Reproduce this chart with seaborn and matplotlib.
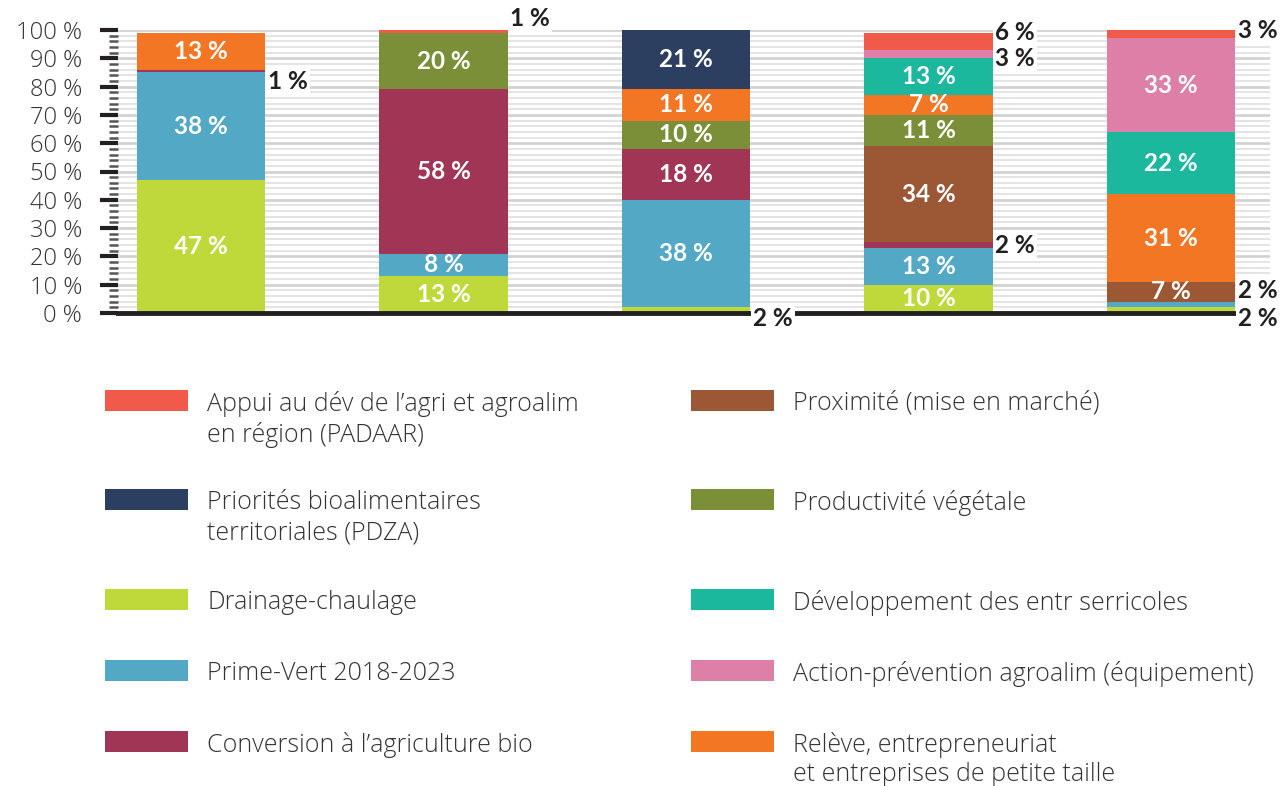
import matplotlib.pyplot as plt
import matplotlib as mpl
import matplotlib.patches as mpatches
from matplotlib.ticker import MultipleLocator, FuncFormatter
import seaborn as sns
import numpy as np

# Data: share of each program per group (%), stacked bottom -> top
groups = ["G1", "G2", "G3", "G4", "G5"]
drainage = [47, 13, 2, 10, 2]
prime_vert = [38, 8, 38, 13, 2]
conversion = [1, 58, 18, 2, 0]
proximite = [0, 0, 0, 34, 7]
productivite = [0, 20, 10, 11, 0]
releve = [13, 0, 11, 7, 31]
serricoles = [0, 0, 0, 13, 22]
action_prev = [0, 0, 0, 3, 33]
pdza = [0, 0, 21, 0, 0]
padaar = [0, 1, 0, 6, 3]

names = {
    "padaar": "Appui au dév de l’agri et agroalim\nen région (PADAAR)",
    "pdza": "Priorités bioalimentaires\nterritoriales (PDZA)",
    "drainage": "Drainage-chaulage",
    "prime_vert": "Prime-Vert 2018-2023",
    "conversion": "Conversion à l’agriculture bio",
    "proximite": "Proximité (mise en marché)",
    "productivite": "Productivité végétale",
    "serricoles": "Développement des entr serricoles",
    "action_prev": "Action-prévention agroalim (équipement)",
    "releve": "Relève, entrepreneuriat\net entreprises de petite taille",
}

series = {
    "drainage": drainage, "prime_vert": prime_vert, "conversion": conversion,
    "proximite": proximite, "productivite": productivite, "releve": releve,
    "serricoles": serricoles, "action_prev": action_prev, "pdza": pdza,
    "padaar": padaar,
}

colors = {
    "padaar": "#f15a4a", "pdza": "#2c3f60", "drainage": "#bfd83a",
    "prime_vert": "#52a8c5", "conversion": "#a03556", "proximite": "#9c5735",
    "productivite": "#7a8f37", "serricoles": "#1cb89e", "action_prev": "#de7fa8",
    "releve": "#f27623",
}

# legend rows: (left column, right column)
legend_rows = [("padaar", "proximite"), ("pdza", "productivite"),
               ("drainage", "serricoles"), ("prime_vert", "action_prev"),
               ("conversion", "releve")]

# small segments labelled outside the bar: (anchor on segment, vertical alignment)
outside = {
    (0, "conversion"): ("top", "top"),
    (1, "padaar"): ("top", "bottom"),
    (2, "drainage"): ("top", "top"),
    (3, "padaar"): ("top", "center"),
    (3, "action_prev"): ("bottom", "center"),
    (3, "conversion"): ("mid", "center"),
    (4, "padaar"): ("top", "center"),
    (4, "prime_vert"): ("top", "bottom"),
    (4, "drainage"): ("top", "top"),
}

sns.set_theme(style="white")
plt.rcParams['font.family'] = ['Open Sans', 'DejaVu Sans']
dark = "#231f20"
txt = "#333333"
light_font = dict(family=["Open Sans", "DejaVu Sans"], weight="light")
bold_font = dict(family=["Lato", "DejaVu Sans"], weight="bold", size=17.5)
bar_w = 0.53
W, H = 1284, 786

fig = plt.figure(figsize=(12.84, 7.86), dpi=100)
ax = fig.add_axes([118 / W, 473 / H, 1152 / W, 283 / H])

bottom = np.zeros(len(groups))
for key, vals in series.items():
    vals = np.array(vals, dtype=float)
    sns.barplot(x=groups, y=vals, order=groups, bottom=bottom, color=colors[key],
                saturation=1, width=bar_w, errorbar=None, linewidth=0, ax=ax)
    for i, v in enumerate(vals):
        if v == 0:
            continue
        lo, hi = bottom[i], bottom[i] + v
        if (i, key) in outside:
            anchor, va = outside[(i, key)]
            y = {"top": hi, "bottom": lo, "mid": (lo + hi) / 2}[anchor]
            ax.text(i + bar_w / 2 + 0.01, y, f"{int(v)} %", ha="left", va=va,
                    color=dark, clip_on=False, zorder=5,
                    bbox=dict(facecolor="white", edgecolor="none", pad=1.5), **bold_font)
        else:
            ax.text(i, (lo + hi) / 2, f"{int(v)} %", ha="center", va="center",
                    color="white", zorder=5, **bold_font)
    bottom += vals

ax.set_xlim(-0.342, 4.408)
ax.set_ylim(0, 100)
ax.yaxis.set_major_locator(MultipleLocator(10))
ax.yaxis.set_minor_locator(MultipleLocator(2))
ax.yaxis.set_major_formatter(FuncFormatter(lambda v, p: f"{int(v)} %"))
ax.tick_params(axis="y", which="major", direction="out", length=13, width=3,
               color=dark, pad=13, labelsize=17, labelcolor=txt, left=True)
ax.tick_params(axis="y", which="minor", direction="out", length=6.5, width=1.8,
               color="#555555", left=True)
for lab in ax.get_yticklabels():
    lab.set_fontweight("light")
ax.tick_params(axis="x", length=0, labelbottom=False)
ax.set_xlabel("")
ax.set_ylabel("")

ax.grid(axis="y", which="major", color="#d3d3d3", lw=2)
ax.grid(axis="y", which="minor", color="#e2e2e2", lw=1.3)
ax.set_axisbelow(True)
for s in ["left", "top", "right"]:
    ax.spines[s].set_visible(False)
ax.spines["bottom"].set_linewidth(3.5)
ax.spines["bottom"].set_color(dark)

# Legend: patch aligned with the first line of each label
col_x = [105, 691]
patch_w, patch_h = 83, 21
line_h, row_gap = 28.5, 42.5
y_top = 390
for row in legend_rows:
    nlines = max(names[k].count("\n") + 1 for k in row)
    for cx, key in zip(col_x, row):
        fig.add_artist(mpatches.Rectangle((cx / W, 1 - (y_top + patch_h) / H),
                                          patch_w / W, patch_h / H,
                                          transform=fig.transFigure,
                                          facecolor=colors[key], edgecolor="none"))
        fig.text((cx + patch_w + 19) / W, 1 - (y_top + 1) / H, names[key],
                 ha="left", va="top", fontsize=18, color=txt,
                 linespacing=1.24, **light_font)
    y_top += nlines * line_h + row_gap

fig.savefig("out.png", dpi=100)
